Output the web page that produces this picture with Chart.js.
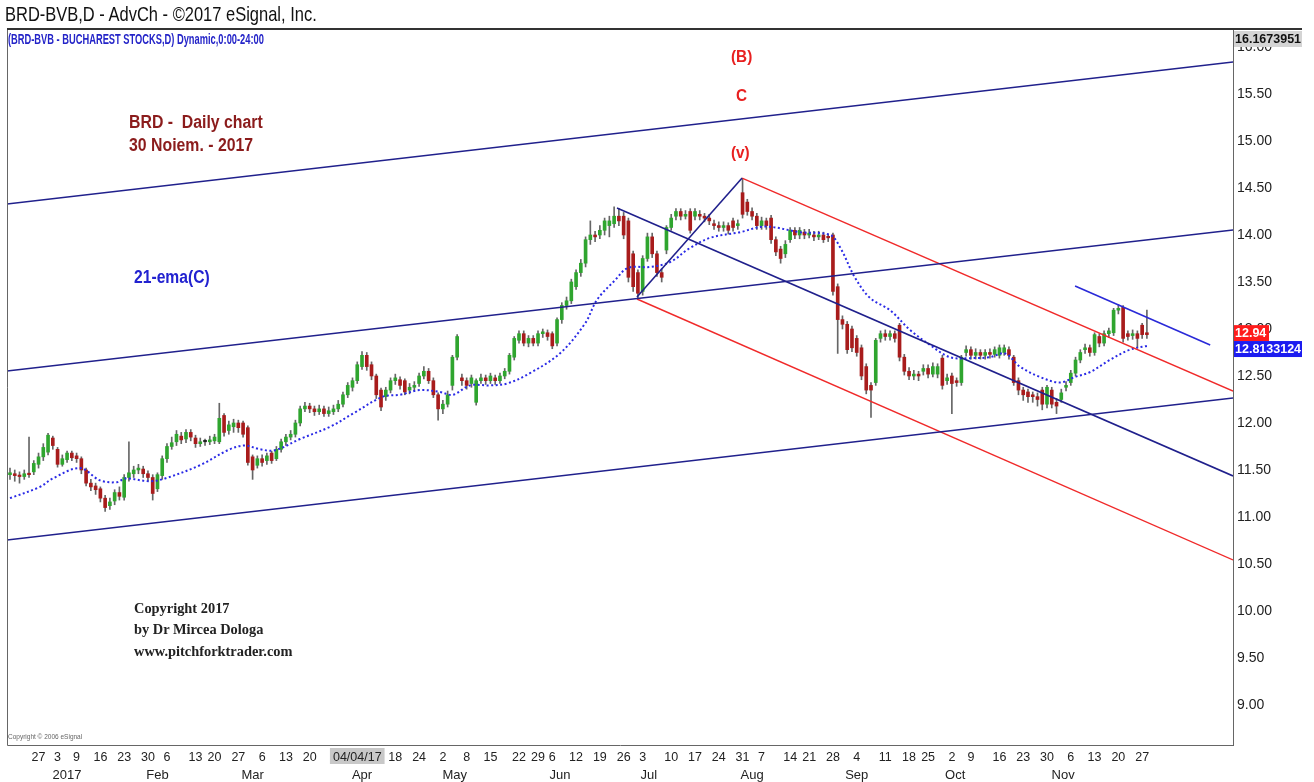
<!DOCTYPE html>
<html><head><meta charset="utf-8">
<script src="https://cdn.jsdelivr.net/npm/chart.js@4.4.0/dist/chart.umd.min.js"></script>
<style>
html,body{margin:0;padding:0;background:#fff;overflow:hidden}
#wrap{position:relative;width:1314px;height:782px}
canvas{position:absolute;left:0;top:0}
.t{position:absolute;white-space:nowrap;line-height:1;transform-origin:left top}
.nar{font-family:'Liberation Sans',Arial,sans-serif}
.red{color:#e82020;font-weight:bold;font-size:17px;transform:scaleX(0.9)}
.ser{font-family:'Liberation Serif','DejaVu Serif',serif;font-weight:bold;font-size:14.4px;color:#222}
</style></head><body>
<div id="wrap">
<canvas id="c" width="1314" height="782"></canvas>
<div class="t nar" style="left:5px;top:3px;font-size:21px;color:#111;transform:scaleX(0.785)">BRD-BVB,D - AdvCh - ©2017 eSignal, Inc.</div>
<div class="t nar" style="left:8px;top:32px;font-size:14px;font-weight:bold;color:#2424c8;transform:scaleX(0.665)">(BRD-BVB - BUCHAREST STOCKS,D) Dynamic,0:00-24:00</div>
<div class="t nar red" style="left:731px;top:48px">(B)</div>
<div class="t nar red" style="left:736px;top:87px">C</div>
<div class="t nar red" style="left:731px;top:144px">(v)</div>
<div class="t nar" style="left:129px;top:113px;font-size:18px;font-weight:bold;color:#8b1c1c;transform:scaleX(0.88)">BRD -&nbsp; Daily chart</div>
<div class="t nar" style="left:129px;top:136px;font-size:18px;font-weight:bold;color:#8b1c1c;transform:scaleX(0.88)">30 Noiem. - 2017</div>
<div class="t nar" style="left:134px;top:268px;font-size:18px;font-weight:bold;color:#2222d0;transform:scaleX(0.87)">21-ema(C)</div>
<div class="t ser" style="left:134px;top:601px">Copyright 2017</div>
<div class="t ser" style="left:134px;top:622px">by Dr Mircea Dologa</div>
<div class="t ser" style="left:134px;top:644px">www.pitchforktrader.com</div>
<div class="t" style="left:8px;top:734px;font-family:'Liberation Sans',sans-serif;font-size:6.5px;color:#666">Copyright © 2006 eSignal</div>
</div>
<script>
const opens = [
11.45,11.46,11.44,11.43,11.46,11.48,11.56,11.64,11.69,11.84,
11.72,11.56,11.61,11.68,11.65,11.62,11.50,11.36,11.33,11.30,
11.20,11.12,11.17,11.26,11.21,11.42,11.46,11.50,11.51,11.46,
11.42,11.30,11.44,11.62,11.75,11.80,11.86,11.83,11.90,11.84,
11.78,11.80,11.80,11.81,11.80,12.08,11.92,11.96,12.00,12.00,
11.95,11.64,11.55,11.62,11.60,11.68,11.62,11.72,11.80,11.85,
11.88,12.00,12.15,12.18,12.15,12.12,12.15,12.10,12.12,12.15,
12.20,12.30,12.38,12.45,12.60,12.72,12.62,12.50,12.35,12.28,
12.35,12.45,12.46,12.45,12.35,12.38,12.42,12.50,12.55,12.45,
12.30,12.15,12.20,12.40,12.70,12.48,12.45,12.42,12.22,12.45,
12.48,12.45,12.48,12.45,12.50,12.55,12.70,12.88,12.95,12.85,
12.90,12.85,12.95,12.96,12.95,12.85,13.10,13.25,13.30,13.45,
13.60,13.70,13.95,14.00,14.00,14.05,14.10,14.12,14.20,14.20,
14.15,13.80,13.60,13.40,13.75,13.98,13.80,13.60,13.84,14.08,
14.20,14.25,14.20,14.25,14.20,14.22,14.20,14.18,14.12,14.10,
14.08,14.10,14.15,14.10,14.45,14.35,14.25,14.20,14.10,14.15,
14.18,13.95,13.85,13.80,13.95,14.05,14.00,14.03,14.00,14.00,
13.98,14.00,13.98,14.00,13.45,13.10,13.05,13.00,12.90,12.80,
12.60,12.40,12.43,12.90,12.95,12.92,12.95,13.04,12.70,12.55,
12.50,12.52,12.55,12.58,12.52,12.52,12.69,12.45,12.50,12.45,
12.43,12.75,12.78,12.72,12.75,12.72,12.75,12.73,12.72,12.75,
12.78,12.70,12.45,12.35,12.33,12.30,12.28,12.35,12.20,12.35,
12.22,12.25,12.38,12.43,12.53,12.67,12.78,12.80,12.75,12.92,
12.85,12.95,12.96,13.20,13.23,12.95,12.93,12.95,13.04,12.96];
const highs = [
11.52,11.50,11.48,11.50,11.85,11.60,11.68,11.78,11.89,11.86,
11.74,11.66,11.70,11.70,11.68,11.64,11.52,11.40,11.36,11.32,
11.23,11.20,11.29,11.32,11.45,11.80,11.54,11.56,11.54,11.49,
11.45,11.47,11.65,11.78,11.85,11.92,11.90,11.93,11.93,11.87,
11.84,11.83,11.86,11.88,12.21,12.10,12.02,12.04,12.03,12.02,
11.97,11.66,11.65,11.66,11.68,11.70,11.75,11.83,11.88,11.92,
12.03,12.18,12.22,12.21,12.18,12.19,12.18,12.17,12.19,12.24,
12.33,12.43,12.48,12.65,12.76,12.75,12.65,12.52,12.37,12.38,
12.48,12.52,12.49,12.47,12.42,12.44,12.53,12.60,12.58,12.48,
12.32,12.24,12.34,12.72,12.94,12.52,12.48,12.51,12.47,12.52,
12.51,12.53,12.51,12.53,12.58,12.74,12.92,12.98,12.98,12.93,
12.93,12.98,13.00,12.99,12.97,13.12,13.28,13.34,13.53,13.63,
13.74,13.98,14.15,14.04,14.10,14.18,14.20,14.30,14.28,14.24,
14.18,13.83,13.63,13.78,14.02,14.02,13.83,13.64,14.10,14.22,
14.28,14.28,14.26,14.28,14.28,14.26,14.23,14.22,14.16,14.14,
14.14,14.13,14.18,14.16,14.60,14.38,14.29,14.23,14.19,14.18,
14.21,13.98,13.88,13.94,14.08,14.08,14.08,14.06,14.06,14.04,
14.04,14.03,14.01,14.02,13.48,13.14,13.08,13.03,12.93,12.83,
12.63,12.43,12.90,12.98,12.99,12.98,12.98,13.06,12.73,12.59,
12.56,12.55,12.62,12.62,12.64,12.63,12.72,12.52,12.53,12.48,
12.72,12.82,12.81,12.79,12.78,12.78,12.79,12.81,12.83,12.83,
12.81,12.72,12.48,12.38,12.36,12.33,12.32,12.38,12.40,12.38,
12.26,12.36,12.44,12.56,12.70,12.78,12.84,12.83,12.96,12.95,
12.98,13.01,13.22,13.26,13.25,12.98,12.99,12.98,13.06,13.20];
const lows = [
11.40,11.38,11.36,11.40,11.42,11.45,11.52,11.60,11.66,11.72,
11.53,11.54,11.58,11.60,11.58,11.46,11.33,11.28,11.24,11.16,
11.06,11.08,11.13,11.18,11.18,11.38,11.42,11.46,11.42,11.38,
11.18,11.27,11.40,11.58,11.72,11.76,11.78,11.79,11.81,11.74,
11.75,11.76,11.77,11.78,11.78,11.86,11.88,11.90,11.90,11.85,
11.55,11.40,11.52,11.54,11.56,11.57,11.60,11.69,11.76,11.82,
11.85,11.97,12.12,12.11,12.08,12.09,12.07,12.07,12.09,12.12,
12.17,12.27,12.34,12.42,12.57,12.56,12.46,12.26,12.13,12.24,
12.32,12.41,12.36,12.30,12.31,12.34,12.39,12.47,12.42,12.27,
12.03,12.10,12.17,12.35,12.67,12.40,12.36,12.38,12.19,12.42,
12.41,12.42,12.41,12.42,12.47,12.52,12.67,12.85,12.82,12.81,
12.82,12.82,12.91,12.88,12.79,12.82,13.06,13.21,13.27,13.42,
13.56,13.66,13.90,13.93,13.96,14.00,13.98,14.08,14.10,13.96,
13.50,13.40,13.32,13.36,13.72,13.76,13.56,13.50,13.80,14.05,
14.16,14.16,14.17,14.02,14.16,14.16,14.14,14.11,14.06,14.04,
14.04,14.01,14.04,14.06,14.18,14.21,14.16,14.06,14.06,14.06,
13.91,13.78,13.70,13.76,13.92,13.96,13.96,13.96,13.97,13.94,
13.95,13.92,13.93,13.36,12.74,13.00,12.74,12.76,12.71,12.46,
12.31,12.06,12.40,12.86,12.88,12.88,12.86,12.66,12.51,12.46,
12.46,12.45,12.51,12.48,12.49,12.48,12.36,12.41,12.10,12.39,
12.40,12.71,12.68,12.68,12.68,12.68,12.69,12.70,12.69,12.72,
12.68,12.40,12.30,12.24,12.22,12.22,12.18,12.14,12.16,12.16,
12.10,12.22,12.34,12.40,12.50,12.64,12.74,12.71,12.72,12.81,
12.82,12.91,12.93,13.16,12.86,12.88,12.89,12.80,12.90,12.90];
const closes = [
11.47,11.44,11.43,11.46,11.45,11.57,11.64,11.74,11.87,11.76,
11.56,11.62,11.68,11.63,11.62,11.50,11.36,11.32,11.29,11.20,
11.10,11.16,11.26,11.22,11.42,11.47,11.50,11.52,11.46,11.42,
11.25,11.45,11.62,11.75,11.79,11.88,11.82,11.90,11.85,11.78,
11.80,11.80,11.82,11.85,12.05,11.90,11.98,12.00,11.95,11.88,
11.58,11.50,11.62,11.58,11.65,11.60,11.72,11.80,11.85,11.88,
12.00,12.15,12.18,12.15,12.12,12.15,12.10,12.13,12.15,12.20,
12.30,12.40,12.45,12.62,12.72,12.60,12.50,12.30,12.17,12.35,
12.45,12.48,12.40,12.33,12.38,12.40,12.50,12.55,12.45,12.30,
12.15,12.20,12.30,12.70,12.92,12.45,12.40,12.48,12.45,12.48,
12.45,12.50,12.45,12.50,12.55,12.72,12.90,12.95,12.85,12.90,
12.85,12.95,12.97,12.92,12.82,13.10,13.25,13.30,13.50,13.60,
13.70,13.95,14.00,13.98,14.05,14.15,14.15,14.20,14.15,14.00,
13.55,13.45,13.38,13.75,13.98,13.80,13.60,13.55,14.08,14.18,
14.25,14.20,14.22,14.05,14.25,14.20,14.18,14.15,14.10,14.08,
14.10,14.05,14.08,14.12,14.22,14.25,14.20,14.10,14.15,14.10,
13.95,13.82,13.75,13.90,14.05,14.00,14.05,14.00,14.02,13.98,
14.00,13.95,13.97,13.40,13.10,13.05,12.78,12.80,12.75,12.50,
12.35,12.35,12.88,12.95,12.92,12.95,12.90,12.70,12.55,12.50,
12.52,12.50,12.58,12.52,12.60,12.60,12.40,12.48,12.42,12.43,
12.70,12.78,12.72,12.75,12.72,12.75,12.73,12.78,12.80,12.80,
12.72,12.43,12.35,12.30,12.28,12.28,12.25,12.20,12.38,12.20,
12.18,12.32,12.40,12.53,12.67,12.75,12.80,12.75,12.94,12.85,
12.95,12.98,13.20,13.22,12.90,12.92,12.95,12.90,12.94,12.94];

// 21-ema (day index, value)
const emaIdx  = [0,6.3,9,14.7,18.9,22.5,24.2,29.4,32.6,39.9,46.2,49.4,52.6,55.7,61,67.3,72.1,78.4,82,86.2,90.4,93.1,96.7,100.9,104.5,109.3,115.6,120.9,123.4,127.2,129.9,134.5,138.7,142.9,147.2,153.5,158.7,166.1,172.4,174.5,177.6,180.8,185,189.2,193.4,197.6,201.8,206,209.2,212.3,216.5,220.7,223.9,227,231.2,235.4,239];
const emaVals = [11.20,11.32,11.41,11.52,11.39,11.37,11.41,11.38,11.41,11.55,11.72,11.76,11.72,11.71,11.83,11.96,12.10,12.28,12.30,12.35,12.33,12.30,12.40,12.40,12.42,12.53,12.74,13.06,13.31,13.52,13.65,13.66,13.71,13.86,13.97,14.03,14.09,14.03,14.00,13.87,13.55,13.33,13.20,12.99,12.83,12.70,12.69,12.70,12.74,12.60,12.49,12.43,12.49,12.54,12.67,12.78,12.82];

// drawn studies: [startIndex, startValue, endIndex, endValue]
const channelTop    = [-0.63, 14.330, 257.1, 15.840];
const channelMid    = [-0.63, 12.553, 257.1, 14.053];
const channelLow    = [-0.63, 10.755, 257.1, 12.266];
const forkMedian    = [127.6, 14.287, 257.1, 11.436];
const forkHandle    = [131.8, 13.340, 153.9, 14.606];
const redUpper      = [153.9, 14.606, 257.1, 12.340];
const redLower      = [131.8, 13.319, 257.1, 10.543];
const shortBlue     = [223.9, 13.457, 252.3, 12.830];

const dayTickIdx = [6,10,14,19,24,29,33,39,43,48,53,58,63,73,81,86,91,96,101,107,111,114,119,124,129,133,139,144,149,154,158,164,168,173,178,184,189,193,198,202,208,213,218,223,228,233,238];
const dayTickLabels = ['27','3','9','16','23','30','6','13','20','27','6','13','20','04/04/17','18','24','2','8','15','22','29','6','12','19','26','3','10','17','24','31','7','14','21','28','4','11','18','25','2','9','16','23','30','6','13','20','27'];
const monthIdx = [12,31,51,74,93.5,115.6,134.3,156,178,198.7,221.4];
const monthLabels = ['2017','Feb','Mar','Apr','May','Jun','Jul','Aug','Sep','Oct','Nov'];
const yTicks = [9.0,9.5,10.0,10.5,11.0,11.5,12.0,12.5,13.0,13.5,14.0,14.5,15.0,15.5,16.0];

const topValue = 16.1673951, lastClose = 12.94, lastEma = 12.8133124;
const xMin = -0.63, xMax = 257.1, yMin = 8.574, yMax = 16.181;

const UP = '#2fa52f', DOWN = '#a81c1c', FLAT = '#222';
const bodyColors = opens.map((o,i)=> closes[i] > o ? UP : (closes[i] < o ? DOWN : FLAT));
const NAVY = '#20208c', RED = '#f02a2a';
const seg = (a, color, w) => ({
  type:'line', data:[{x:a[0],y:a[1]},{x:a[2],y:a[3]}], borderColor:color, borderWidth:w,
  pointRadius:0, fill:false, order:1, tension:0
});
const FONT = "'Liberation Sans',Arial,sans-serif";

const frame = {
  id:'frame',
  afterDraw(chart){
    const {ctx, chartArea:a} = chart;
    const y = chart.scales.y;
    ctx.save();
    ctx.strokeStyle = '#666'; ctx.lineWidth = 1;
    ctx.beginPath();
    ctx.moveTo(a.left+0.5, a.top); ctx.lineTo(a.left+0.5, a.bottom+0.5);
    ctx.lineTo(a.right+0.5, a.bottom+0.5); ctx.lineTo(a.right+0.5, a.top);
    ctx.stroke();
    ctx.strokeStyle = '#333'; ctx.lineWidth = 2;
    ctx.beginPath(); ctx.moveTo(a.left, a.top-1); ctx.lineTo(1302, a.top-1); ctx.stroke();
    ctx.font = "bold 12.5px " + FONT; ctx.textBaseline = 'middle'; ctx.textAlign = 'left';
    const box = (txt, bg, fg, top, w) => {
      ctx.fillStyle = bg; ctx.fillRect(a.right+1, top, w, 16);
      ctx.fillStyle = fg; ctx.fillText(txt, a.right+2, top+8.5);
    };
    box(topValue.toFixed(7), '#d4d4d4', '#111', a.top+1, 68);
    box(lastClose.toFixed(2), '#ff1c1c', '#fff', y.getPixelForValue(lastClose)-9.5, 35);
    box(lastEma.toFixed(7), '#1c1cf0', '#fff', y.getPixelForValue(lastEma)-5.5, 68);
    ctx.restore();
  }
};

new Chart(document.getElementById('c'), {
  type:'bar',
  data:{ datasets:[
    seg(channelTop, NAVY, 1.6), seg(channelMid, NAVY, 1.6), seg(channelLow, NAVY, 1.6),
    seg(forkMedian, NAVY, 1.6), seg(forkHandle, NAVY, 1.6), seg(shortBlue, '#2a2ad8', 1.6),
    seg(redUpper, RED, 1.4), seg(redLower, RED, 1.4),
    { type:'line', data: emaIdx.map((x,i)=>({x, y:emaVals[i]})), borderColor:'#2a2ae6', borderWidth:2,
      borderDash:[2,2.5], pointRadius:0, tension:0.35, order:2 },
    { type:'bar', data: opens.map((o,i)=>({x:i, y:[lows[i], highs[i]]})), backgroundColor:'#666',
      barThickness:1, grouped:false, order:6 },
    { type:'bar', data: opens.map((o,i)=>({x:i, y:[o, closes[i]]})), backgroundColor: bodyColors,
      barThickness:3, minBarLength:1.5, grouped:false, order:5 }
  ]},
  options:{
    responsive:false, animation:false, devicePixelRatio:1,
    layout:{ padding:{left:7, top:30, right:0, bottom:0} },
    plugins:{ legend:{display:false}, tooltip:{enabled:false} },
    scales:{
      x:{ type:'linear', position:'bottom', min:xMin, max:xMax, offset:false,
        grid:{display:false, drawTicks:false}, border:{display:false},
        afterBuildTicks(s){ s.ticks = dayTickIdx.map(v=>({value:v})); },
        afterFit(s){ s.height = 19; },
        ticks:{ autoSkip:false, maxRotation:0, padding:5, color:'#222',
          font:{family:FONT, size:12.5},
          callback:(v,i)=>dayTickLabels[i],
          showLabelBackdrop:(c)=> c.index === 13,
          backdropColor:'#c8c8c8', backdropPadding:{left:3,right:3,top:2,bottom:2} } },
      x2:{ type:'linear', position:'bottom', min:xMin, max:xMax, offset:false,
        grid:{display:false, drawTicks:false}, border:{display:false},
        afterBuildTicks(s){ s.ticks = monthIdx.map(v=>({value:v})); },
        afterFit(s){ s.height = 18; },
        ticks:{ autoSkip:false, maxRotation:0, padding:4, color:'#222',
          font:{family:FONT, size:13},
          callback:(v,i)=>monthLabels[i] } },
      y:{ type:'linear', position:'right', min:yMin, max:yMax,
        grid:{display:false, drawTicks:false}, border:{display:true, color:'#555', width:1},
        afterBuildTicks(s){ s.ticks = yTicks.map(v=>({value:v})); },
        afterFit(s){ s.width = 81; },
        ticks:{ padding:4, color:'#222', font:{family:FONT, size:14},
          callback:(v)=>Number(v).toFixed(2) } }
    }
  },
  plugins:[frame]
});
</script>
</body></html>
